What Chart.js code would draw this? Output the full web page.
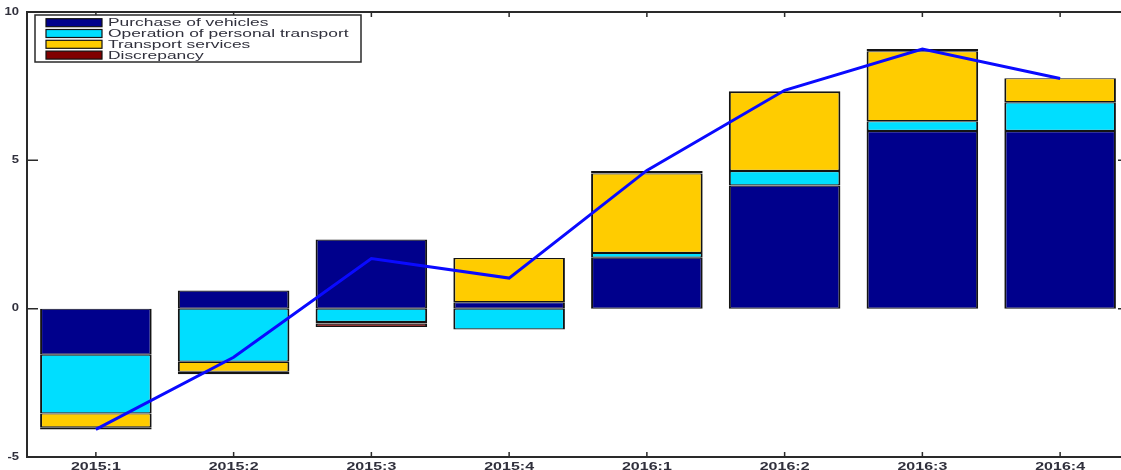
<!DOCTYPE html>
<html>
<head>
<meta charset="utf-8">
<script src="https://cdn.jsdelivr.net/npm/chart.js@4/dist/chart.umd.min.js"></script>
<style>
  html, body { margin:0; padding:0; background:#fff; overflow:hidden; }
  #wrap { width:1140px; height:470px; position:relative; }
</style>
</head>
<body>
<div id="wrap"><canvas id="chart"></canvas></div>
<script>
// DATA
const categories = ['2015:1','2015:2','2015:3','2015:4','2016:1','2016:2','2016:3','2016:4'];
const purchase    = [-1.55,  0.61,  2.33,  0.22, 1.72, 4.15, 5.99, 5.99];
const operation   = [-1.98, -1.79, -0.45, -0.70, 0.16, 0.49, 0.33, 0.97];
const transport   = [-0.47, -0.34, -0.05,  1.49, 2.68, 2.66, 2.36, 0.81];
const discrepancy = [-0.07, -0.08, -0.12,  0.00, 0.08, 0.03, 0.07, 0.00];
const total       = [-4.07, -1.64,  1.69,  1.03, 4.66, 7.36, 8.75, 7.76];
const yTicks = [-5, 0, 5, 10];

const NAVY = '#00008c', CYAN = '#00deff', YEL = '#ffcc00', DRED = '#800000';
const TXT = '#30303c';

// draw text squashed wide like the original export
function wideText(ctx, s, x, y, sx, align){
  const w = ctx.measureText(s).width*sx;
  let x0 = align==='center' ? x-w/2 : align==='right' ? x-w : x;
  ctx.save();
  ctx.translate(x0, y);
  ctx.scale(sx, 1);
  ctx.textAlign = 'left';
  ctx.fillText(s, 0, 0);
  ctx.restore();
}

// FRAME, TICKS, LABELS, LEGEND
const frame = {
  id:'frame',
  afterDraw(chart){
    const ctx = chart.ctx, a = chart.chartArea;
    const x = chart.scales.x, y = chart.scales.y;
    ctx.save();

    ctx.strokeStyle = '#2a2a2a';
    ctx.lineWidth = 2;
    ctx.strokeRect(a.left, a.top, a.right-a.left, a.bottom-a.top);

    ctx.lineWidth = 1.5;
    ctx.beginPath();
    yTicks.forEach(v=>{
      const py = y.getPixelForValue(v);
      ctx.moveTo(a.left, py); ctx.lineTo(a.left+11, py);
      ctx.moveTo(a.right, py); ctx.lineTo(a.right-11, py);
    });
    categories.forEach((c,i)=>{
      const px = x.getPixelForValue(i);
      ctx.moveTo(px, a.bottom); ctx.lineTo(px, a.bottom-5);
      ctx.moveTo(px, a.top); ctx.lineTo(px, a.top+5);
    });
    ctx.stroke();

    // tick labels
    ctx.fillStyle = TXT;
    ctx.font = 'bold 10px "Liberation Sans", Arial, sans-serif';
    ctx.textBaseline = 'middle';
    yTicks.forEach(v=>{
      wideText(ctx, String(v), a.left-8, y.getPixelForValue(v), 1.3, 'right');
    });
    ctx.textBaseline = 'alphabetic';
    categories.forEach((c,i)=>{
      wideText(ctx, c, x.getPixelForValue(i), 470, 1.6, 'center');
    });

    // legend
    const bars = chart.data.datasets.filter(d=>d.type!=='line');
    const lx = a.left+8, ly = a.top+3, lw = 326, lh = 47;
    ctx.fillStyle = '#fff';
    ctx.fillRect(lx, ly, lw, lh);
    ctx.strokeStyle = '#2a2a2a';
    ctx.lineWidth = 1.5;
    ctx.strokeRect(lx, ly, lw, lh);
    ctx.font = '11px "Liberation Sans", Arial, sans-serif';
    ctx.textBaseline = 'middle';
    bars.forEach((d,i)=>{
      const ry = ly + 7.7 + i*10.8;
      ctx.fillStyle = d.backgroundColor;
      ctx.fillRect(lx+11, ry-4, 56, 8);
      ctx.lineWidth = 1.2;
      ctx.strokeStyle = '#111';
      ctx.strokeRect(lx+11, ry-4, 56, 8);
      ctx.fillStyle = TXT;
      wideText(ctx, d.label, lx+73, ry+0.5, 1.58, 'left');
    });

    ctx.restore();
  }
};

function barSet(label, data, color){
  return {
    label, data,
    backgroundColor: color,
    borderColor: '#141414',
    borderWidth: { left: 2, right: 2, top: 1.2, bottom: 1.2 },
    borderSkipped: false,
    barPercentage: 0.81,
    categoryPercentage: 1,
    stack: 'parts',
    order: 1
  };
}

new Chart(document.getElementById('chart'), {
  type: 'bar',
  data: {
    labels: categories,
    datasets: [
      barSet('Purchase of vehicles', purchase, NAVY),
      barSet('Operation of personal transport', operation, CYAN),
      barSet('Transport services', transport, YEL),
      barSet('Discrepancy', discrepancy, DRED),
      {
        type: 'line',
        label: 'Total',
        data: total,
        borderColor: '#0a0aff',
        borderWidth: 3,
        pointRadius: 0,
        tension: 0,
        fill: false,
        stack: 'total',
        order: 0
      }
    ]
  },
  options: {
    responsive: true,
    maintainAspectRatio: false,
    animation: false,
    layout: { padding: { top: 12, right: 11, left: 0, bottom: 0 } },
    plugins: { legend: { display: false }, tooltip: { enabled: false } },
    scales: {
      x: {
        stacked: true,
        grid: { display: false },
        border: { display: false },
        ticks: { display: false },
        afterFit: s => { s.height = 13; }
      },
      y: {
        stacked: true,
        min: -5, max: 10,
        grid: { display: false },
        border: { display: false },
        ticks: { display: false, stepSize: 5 },
        afterFit: s => { s.width = 27; }
      }
    }
  },
  plugins: [frame]
});
</script>
</body>
</html>
